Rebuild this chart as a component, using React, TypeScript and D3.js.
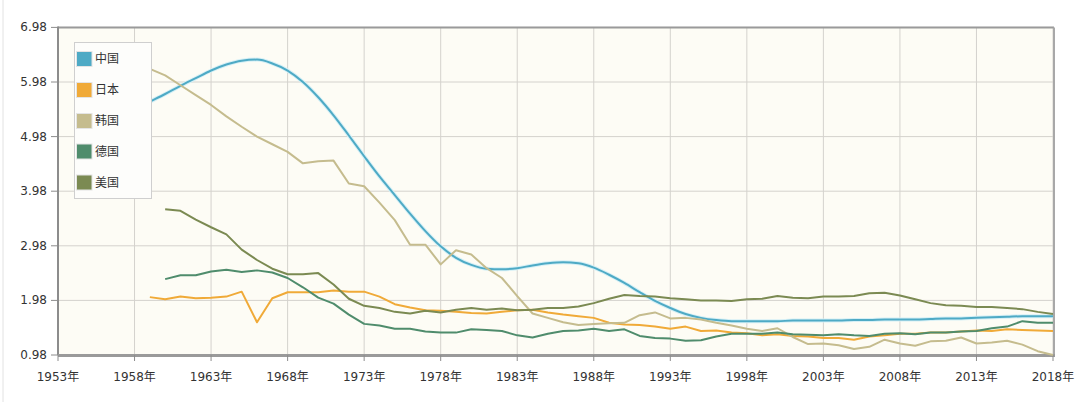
import React from "react";
import * as d3 from "d3";

const seriesNames = ["中国", "日本", "韩国", "德国", "美国"];
const seriesColors = ["#4eaac5", "#f0aa38", "#c5bc8e", "#4f8c6c", "#7b8a52"];

const chinaStart = 1958;
const chinaValues = [
  5.48, 5.62, 5.76, 5.91, 6.05, 6.19, 6.3, 6.37, 6.39, 6.32, 6.19, 5.98, 5.7, 5.37, 5.0, 4.62,
  4.25, 3.91, 3.57, 3.25, 2.97, 2.76, 2.63, 2.56, 2.55, 2.57, 2.62, 2.66, 2.68, 2.66, 2.58, 2.45,
  2.3, 2.13, 1.97, 1.84, 1.73, 1.66, 1.62, 1.6, 1.6, 1.6, 1.6, 1.61, 1.61, 1.61, 1.61, 1.62, 1.62,
  1.63, 1.63, 1.63, 1.64, 1.65, 1.65, 1.66, 1.67, 1.68, 1.69, 1.69, 1.69,
];

const japanStart = 1959;
const japanValues = [
  2.04, 2.0, 2.05, 2.02, 2.03, 2.05, 2.14, 1.58, 2.02, 2.13, 2.13, 2.13, 2.16, 2.14, 2.14, 2.05,
  1.91, 1.85, 1.8, 1.79, 1.77, 1.75, 1.74, 1.77, 1.8, 1.81, 1.76, 1.72, 1.69, 1.66, 1.57, 1.54,
  1.53, 1.5, 1.46, 1.5, 1.42, 1.43, 1.39, 1.38, 1.34, 1.36, 1.33, 1.32, 1.29, 1.29, 1.26, 1.32,
  1.34, 1.37, 1.37, 1.39, 1.39, 1.41, 1.43, 1.42, 1.45, 1.44, 1.43, 1.42,
];

const koreaStart = 1958;
const koreaValues = [
  6.35, 6.22, 6.1, 5.92, 5.74, 5.56, 5.35, 5.16, 4.98, 4.84, 4.7, 4.49, 4.53, 4.54, 4.12, 4.07,
  3.77, 3.45, 3.0, 3.0, 2.64, 2.9, 2.82, 2.57, 2.39, 2.06, 1.74, 1.66, 1.58, 1.53, 1.55, 1.56,
  1.57, 1.71, 1.76, 1.65, 1.66, 1.63, 1.57, 1.52, 1.46, 1.42, 1.47, 1.31, 1.18, 1.19, 1.16, 1.09,
  1.13, 1.26, 1.19, 1.15, 1.23, 1.24, 1.3, 1.19, 1.21, 1.24, 1.17, 1.05, 0.98,
];

const germanyStart = 1960;
const germanyValues = [
  2.37, 2.44, 2.44, 2.51, 2.54, 2.5, 2.53, 2.49, 2.39, 2.22, 2.03, 1.92, 1.72, 1.55, 1.52, 1.46,
  1.46, 1.41, 1.39, 1.39, 1.45, 1.44, 1.42, 1.34, 1.3, 1.37, 1.42, 1.43, 1.46, 1.42, 1.45, 1.33,
  1.29, 1.28, 1.24, 1.25, 1.32, 1.37, 1.37, 1.37, 1.39, 1.36, 1.35, 1.34, 1.36, 1.34, 1.33, 1.37,
  1.38, 1.36, 1.39, 1.39, 1.41, 1.42, 1.47, 1.5, 1.6, 1.57, 1.57,
];

const usaStart = 1960;
const usaValues = [
  3.65, 3.62, 3.46, 3.32, 3.19, 2.91, 2.72, 2.56, 2.46, 2.46, 2.48, 2.27, 2.01, 1.88, 1.84, 1.77,
  1.74, 1.79, 1.76, 1.81, 1.84, 1.81, 1.83, 1.8, 1.81, 1.84, 1.84, 1.87, 1.93, 2.01, 2.08, 2.06,
  2.05, 2.02, 2.0, 1.98, 1.98, 1.97, 2.0, 2.01, 2.06, 2.03, 2.02, 2.05, 2.05, 2.06, 2.11, 2.12,
  2.07, 2.0, 1.93, 1.89, 1.88, 1.86, 1.86, 1.84, 1.82, 1.77, 1.73,
];

const xTickYears = [1953, 1958, 1963, 1968, 1973, 1978, 1983, 1988, 1993, 1998, 2003, 2008, 2013, 2018];
const yTickValues = [0.98, 1.98, 2.98, 3.98, 4.98, 5.98, 6.98];

const W = 1080;
const H = 402;
const left = 58;
const right = 1053;
const top = 27.4;
const bottom = 355;

const font = "'DejaVu Sans', Verdana, sans-serif";
const cjkFont = "'DejaVu Sans', 'Noto Sans CJK SC', sans-serif";

export default function App() {
  const x = d3.scaleLinear().domain([1953, 2018]).range([left, right]);
  const y = d3.scaleLinear().domain([0.98, 6.98]).range([bottom, top]);

  const seriesData = [
    { start: chinaStart, values: chinaValues },
    { start: japanStart, values: japanValues },
    { start: koreaStart, values: koreaValues },
    { start: germanyStart, values: germanyValues },
    { start: usaStart, values: usaValues },
  ].map((s) => s.values.map((v, i) => ({ year: s.start + i, v })));

  const line = d3
    .line<{ year: number; v: number }>()
    .x((d) => x(d.year))
    .y((d) => y(d.v));
  const smooth = d3
    .line<{ year: number; v: number }>()
    .x((d) => x(d.year))
    .y((d) => y(d.v))
    .curve(d3.curveMonotoneX);

  const legendX = 74;
  const legendY = 42;
  const legendRowY = [59, 90, 121, 151.5, 182.5];

  return (
    <svg
      width={W}
      height={H}
      style={{ position: "absolute", left: 0, top: 0, background: "#ffffff" }}
    >
      <line x1={3} x2={3} y1={0} y2={H} stroke="#e2e2e2" strokeWidth={1} />
      <rect x={left} y={top} width={right - left} height={bottom - top} fill="#fdfcf5" />
      {xTickYears.map((yr) => (
        <line
          key={"gx" + yr}
          x1={x(yr)}
          x2={x(yr)}
          y1={top}
          y2={bottom}
          stroke="#d4d2cd"
          strokeWidth={1}
        />
      ))}
      {yTickValues.map((v) => (
        <line
          key={"gy" + v}
          x1={left}
          x2={right}
          y1={y(v)}
          y2={y(v)}
          stroke="#d4d2cd"
          strokeWidth={1}
        />
      ))}
      <line x1={left} x2={right + 1} y1={top} y2={top} stroke="#9a9a9a" strokeWidth={2} />
      <line x1={right + 1} x2={right + 1} y1={top} y2={bottom} stroke="#a8a8a8" strokeWidth={2} />
      <line x1={left} x2={left} y1={top - 1} y2={bottom} stroke="#8c8c8c" strokeWidth={2} />
      <line x1={left} x2={right + 2} y1={bottom + 0.5} y2={bottom + 0.5} stroke="#9a9a9a" strokeWidth={3} />
      {yTickValues.map((v) => (
        <g key={"ty" + v}>
          <line x1={51} x2={left} y1={y(v)} y2={y(v)} stroke="#8c8c8c" strokeWidth={1} />
          <text
            x={47}
            y={y(v)}
            textAnchor="end"
            dominantBaseline="central"
            fontFamily={font}
            fontSize={12}
            fill="#333"
          >
            {v.toFixed(2)}
          </text>
        </g>
      ))}
      {xTickYears.map((yr) => (
        <g key={"tx" + yr}>
          <line x1={x(yr)} x2={x(yr)} y1={bottom} y2={bottom + 6} stroke="#8c8c8c" strokeWidth={1} />
          <text
            x={x(yr)}
            y={381}
            textAnchor="middle"
            fontFamily={cjkFont}
            fontSize={12}
            fill="#333"
          >
            {yr + "年"}
          </text>
        </g>
      ))}
      <path d={smooth(seriesData[0]) || ""} fill="none" stroke="#d6f0f6" strokeWidth={4} />
      {seriesData.map((d, i) => (
        <path
          key={"s" + i}
          d={(i === 0 ? smooth(d) : line(d)) || ""}
          fill="none"
          stroke={seriesColors[i]}
          strokeWidth={2}
          strokeLinejoin="round"
        />
      ))}
      <rect
        x={legendX + 0.5}
        y={legendY + 0.5}
        width={77}
        height={156}
        fill="#fdfdfb"
        stroke="#cfcfcf"
        strokeWidth={1}
      />
      {seriesNames.map((name, i) => (
        <g key={"lg" + i}>
          <rect
            x={76.5}
            y={legendRowY[i] - 7.5}
            width={15.5}
            height={15}
            fill={seriesColors[i]}
            stroke="#e4e4e4"
            strokeWidth={1}
          />
          <text
            x={95}
            y={legendRowY[i]}
            dominantBaseline="central"
            fontFamily={cjkFont}
            fontSize={12}
            fill="#333"
          >
            {name}
          </text>
        </g>
      ))}
    </svg>
  );
}
